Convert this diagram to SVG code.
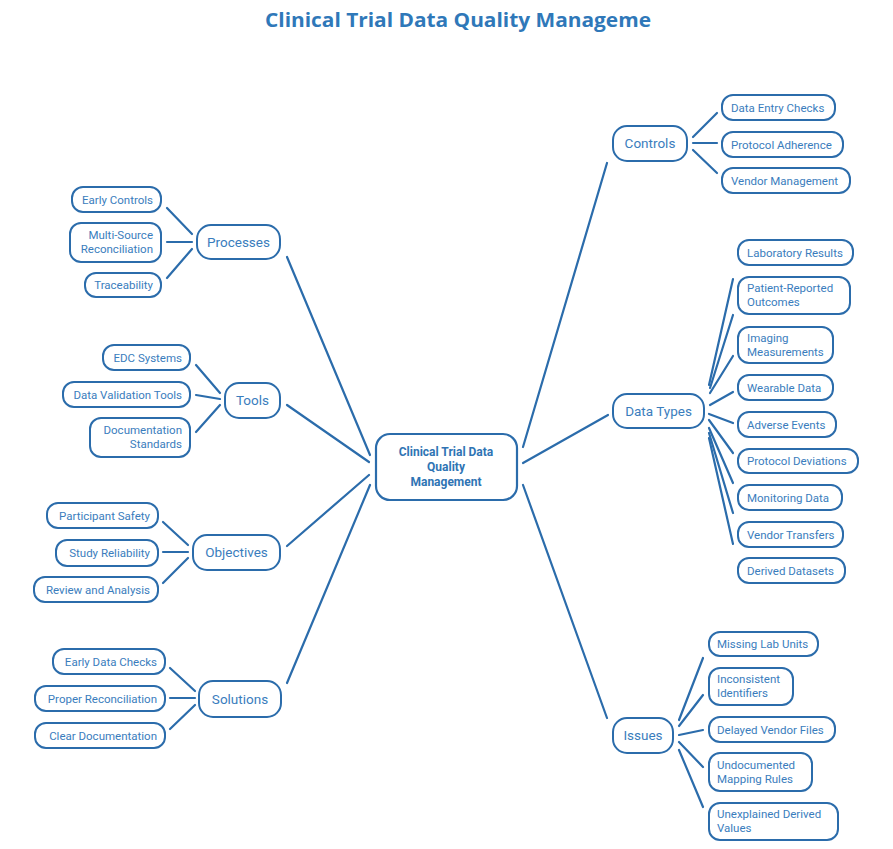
<svg xmlns="http://www.w3.org/2000/svg" width="893" height="849" viewBox="0 0 893 849">
<style>
.bg{fill:#ffffff}
.title{font-family:"Open Sans","Liberation Sans",sans-serif;font-size:19px;font-weight:700;fill:#2f78b9}
.box{fill:#ffffff;stroke:#2b6cab;stroke-width:2}
.cbox{fill:#ffffff;stroke:#2b6cab;stroke-width:2.2}
.t{font-family:Roboto,"Liberation Sans",sans-serif;font-size:11.5px;fill:#3a7dbd}
.tb{font-family:Roboto,"Liberation Sans",sans-serif;font-size:13.5px;fill:#3a7dbd;text-anchor:middle}
.tc{font-family:Roboto,"Liberation Sans",sans-serif;font-size:12px;font-weight:700;fill:#2f74b4;text-anchor:middle}
.l{text-anchor:end}
.r{text-anchor:start}
.edge{stroke:#2b6cab;stroke-width:2.2;stroke-linecap:round;fill:none}
</style>
<rect class="bg" x="0" y="0" width="893" height="849"/>
<text class="title" x="458" y="27" text-anchor="middle" textLength="386" lengthAdjust="spacingAndGlyphs">Clinical Trial Data Quality Manageme</text>

<g id="connectors">
<line class="edge" x1="287" y1="257" x2="370" y2="455"/>
<line class="edge" x1="287" y1="405" x2="369" y2="462"/>
<line class="edge" x1="287" y1="546" x2="369" y2="475"/>
<line class="edge" x1="287" y1="683" x2="370" y2="485"/>
<line class="edge" x1="607" y1="163" x2="523" y2="447"/>
<line class="edge" x1="608" y1="415" x2="523" y2="463"/>
<line class="edge" x1="607" y1="718" x2="523" y2="485"/>
<line class="edge" x1="167" y1="208" x2="192" y2="234"/>
<line class="edge" x1="167" y1="242" x2="192" y2="242"/>
<line class="edge" x1="167" y1="278" x2="192" y2="249"/>
<line class="edge" x1="196" y1="365" x2="220" y2="393"/>
<line class="edge" x1="196" y1="395" x2="220" y2="399"/>
<line class="edge" x1="196" y1="432" x2="220" y2="405"/>
<line class="edge" x1="163" y1="522" x2="188" y2="545"/>
<line class="edge" x1="163" y1="552" x2="188" y2="552"/>
<line class="edge" x1="163" y1="583" x2="188" y2="558"/>
<line class="edge" x1="170" y1="668" x2="195" y2="691"/>
<line class="edge" x1="170" y1="698" x2="195" y2="698"/>
<line class="edge" x1="170" y1="729" x2="195" y2="705"/>
<line class="edge" x1="693" y1="137" x2="717" y2="113"/>
<line class="edge" x1="693" y1="143" x2="717" y2="143"/>
<line class="edge" x1="693" y1="150" x2="717" y2="173"/>
<line class="edge" x1="709" y1="385" x2="733" y2="279"/>
<line class="edge" x1="710" y1="388" x2="733" y2="315"/>
<line class="edge" x1="710" y1="393" x2="733" y2="356"/>
<line class="edge" x1="710" y1="405" x2="733" y2="392"/>
<line class="edge" x1="709" y1="414" x2="733" y2="423"/>
<line class="edge" x1="709" y1="420" x2="733" y2="453"/>
<line class="edge" x1="709" y1="428" x2="733" y2="483"/>
<line class="edge" x1="709" y1="433" x2="733" y2="513"/>
<line class="edge" x1="709" y1="438" x2="733" y2="544"/>
<line class="edge" x1="679" y1="720" x2="703" y2="658"/>
<line class="edge" x1="679" y1="726" x2="703" y2="695"/>
<line class="edge" x1="679" y1="735" x2="703" y2="730"/>
<line class="edge" x1="679" y1="742" x2="703" y2="767"/>
<line class="edge" x1="679" y1="750" x2="703" y2="807"/>
</g>

<g id="center">
<rect class="cbox" x="376" y="434" width="141" height="66" rx="14"/>
<text class="tc" x="446" y="456">Clinical Trial Data<tspan x="446" dy="15">Quality</tspan><tspan x="446" dy="15">Management</tspan></text>
</g>

<g id="processes">
<rect class="box" x="197" y="225" width="83" height="34" rx="14"/>
<text class="tb" x="238.5" y="247">Processes</text>
</g>
<g id="early-controls">
<rect class="box" x="72" y="187" width="89" height="25" rx="11"/>
<text class="t l" x="153" y="203.5">Early Controls</text>
</g>
<g id="multi-source">
<rect class="box" x="70" y="223" width="91" height="39" rx="11"/>
<text class="t l" x="153" y="239">Multi-Source<tspan x="153" dy="13.5">Reconciliation</tspan></text>
</g>
<g id="traceability">
<rect class="box" x="85" y="273" width="76" height="24" rx="11"/>
<text class="t l" x="153" y="289">Traceability</text>
</g>

<g id="tools">
<rect class="box" x="225" y="383" width="55" height="35" rx="14"/>
<text class="tb" x="252.5" y="405">Tools</text>
</g>
<g id="edc-systems">
<rect class="box" x="103" y="345" width="87" height="25" rx="11"/>
<text class="t l" x="182" y="361.5">EDC Systems</text>
</g>
<g id="data-validation-tools">
<rect class="box" x="63" y="382" width="127" height="25" rx="11"/>
<text class="t l" x="182" y="398.5">Data Validation Tools</text>
</g>
<g id="documentation-standards">
<rect class="box" x="90" y="418" width="100" height="39" rx="11"/>
<text class="t l" x="182" y="434">Documentation<tspan x="182" dy="13.5">Standards</tspan></text>
</g>

<g id="objectives">
<rect class="box" x="193" y="535" width="87" height="35" rx="14"/>
<text class="tb" x="236.5" y="557">Objectives</text>
</g>
<g id="participant-safety">
<rect class="box" x="47" y="503" width="111" height="25" rx="11"/>
<text class="t l" x="150" y="519.5">Participant Safety</text>
</g>
<g id="study-reliability">
<rect class="box" x="56" y="540" width="102" height="26" rx="11"/>
<text class="t l" x="150" y="557">Study Reliability</text>
</g>
<g id="review-analysis">
<rect class="box" x="34" y="577" width="124" height="25" rx="11"/>
<text class="t l" x="150" y="593.5">Review and Analysis</text>
</g>

<g id="solutions">
<rect class="box" x="199" y="681" width="82" height="36" rx="14"/>
<text class="tb" x="240" y="703.5">Solutions</text>
</g>
<g id="early-data-checks">
<rect class="box" x="53" y="649" width="112" height="25" rx="11"/>
<text class="t l" x="157" y="665.5">Early Data Checks</text>
</g>
<g id="proper-reconciliation">
<rect class="box" x="35" y="686" width="130" height="25" rx="11"/>
<text class="t l" x="157" y="702.5">Proper Reconciliation</text>
</g>
<g id="clear-documentation">
<rect class="box" x="35" y="723" width="130" height="25" rx="11"/>
<text class="t l" x="157" y="739.5">Clear Documentation</text>
</g>

<g id="controls">
<rect class="box" x="613" y="126" width="74" height="35" rx="14"/>
<text class="tb" x="650" y="148">Controls</text>
</g>
<g id="data-entry-checks">
<rect class="box" x="722" y="95" width="113" height="25" rx="11"/>
<text class="t r" x="731" y="111.5">Data Entry Checks</text>
</g>
<g id="protocol-adherence">
<rect class="box" x="722" y="132" width="121" height="25" rx="11"/>
<text class="t r" x="731" y="148.5">Protocol Adherence</text>
</g>
<g id="vendor-management">
<rect class="box" x="722" y="168" width="128" height="25" rx="11"/>
<text class="t r" x="731" y="184.5">Vendor Management</text>
</g>

<g id="data-types">
<rect class="box" x="613" y="394" width="91" height="34" rx="14"/>
<text class="tb" x="658.5" y="416">Data Types</text>
</g>
<g id="laboratory-results">
<rect class="box" x="738" y="240" width="115" height="25" rx="11"/>
<text class="t r" x="747" y="256.5">Laboratory Results</text>
</g>
<g id="patient-reported">
<rect class="box" x="738" y="277" width="112" height="37" rx="11"/>
<text class="t r" x="747" y="292">Patient-Reported<tspan x="747" dy="13.5">Outcomes</tspan></text>
</g>
<g id="imaging">
<rect class="box" x="738" y="327" width="95" height="36" rx="11"/>
<text class="t r" x="747" y="342">Imaging<tspan x="747" dy="13.5">Measurements</tspan></text>
</g>
<g id="wearable-data">
<rect class="box" x="738" y="375" width="95" height="25" rx="11"/>
<text class="t r" x="747" y="391.5">Wearable Data</text>
</g>
<g id="adverse-events">
<rect class="box" x="738" y="412" width="98" height="25" rx="11"/>
<text class="t r" x="747" y="428.5">Adverse Events</text>
</g>
<g id="protocol-deviations">
<rect class="box" x="738" y="449" width="120" height="24" rx="11"/>
<text class="t r" x="747" y="465">Protocol Deviations</text>
</g>
<g id="monitoring-data">
<rect class="box" x="738" y="485" width="104" height="25" rx="11"/>
<text class="t r" x="747" y="501.5">Monitoring Data</text>
</g>
<g id="vendor-transfers">
<rect class="box" x="738" y="522" width="105" height="25" rx="11"/>
<text class="t r" x="747" y="538.5">Vendor Transfers</text>
</g>
<g id="derived-datasets">
<rect class="box" x="738" y="558" width="107" height="25" rx="11"/>
<text class="t r" x="747" y="574.5">Derived Datasets</text>
</g>

<g id="issues">
<rect class="box" x="613" y="718" width="60" height="35" rx="14"/>
<text class="tb" x="643" y="740">Issues</text>
</g>
<g id="missing-lab-units">
<rect class="box" x="709" y="632" width="109" height="24" rx="11"/>
<text class="t r" x="717" y="648">Missing Lab Units</text>
</g>
<g id="inconsistent-identifiers">
<rect class="box" x="709" y="668" width="84" height="37" rx="11"/>
<text class="t r" x="717" y="683">Inconsistent<tspan x="717" dy="13.5">Identifiers</tspan></text>
</g>
<g id="delayed-vendor-files">
<rect class="box" x="709" y="717" width="126" height="25" rx="11"/>
<text class="t r" x="717" y="733.5">Delayed Vendor Files</text>
</g>
<g id="undocumented-mapping">
<rect class="box" x="709" y="753" width="103" height="38" rx="11"/>
<text class="t r" x="717" y="769">Undocumented<tspan x="717" dy="13.5">Mapping Rules</tspan></text>
</g>
<g id="unexplained-derived">
<rect class="box" x="709" y="803" width="129" height="37" rx="11"/>
<text class="t r" x="717" y="818">Unexplained Derived<tspan x="717" dy="13.5">Values</tspan></text>
</g>
</svg>
